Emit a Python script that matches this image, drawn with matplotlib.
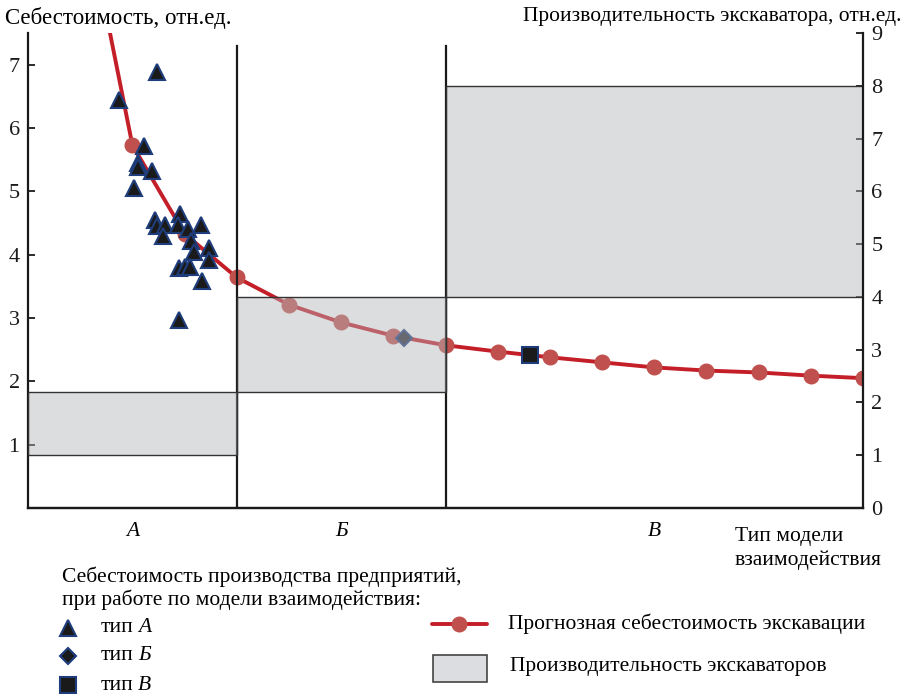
import matplotlib
matplotlib.use('Agg')
import matplotlib.pyplot as plt
from matplotlib.patches import Rectangle
from matplotlib.lines import Line2D

plt.rcParams['font.family'] = ['Liberation Serif', 'DejaVu Serif']

# ---------------- data ----------------
# forecast excavation cost (left axis), points at model positions 0..14
forecast_x = list(range(15))
forecast_cost = [5.73, 4.33, 3.64, 3.21, 2.93, 2.72, 2.57, 2.47, 2.38, 2.30,
                 2.22, 2.17, 2.14, 2.09, 2.05]
# line continues above the plot top
curve_start_x = -0.55
curve_start_cost = 8.0

# enterprises, type A
typeA_x = [0.48, -0.25, 0.23, 0.11, 0.10, 0.38, 0.04, 0.44, 0.48, 0.63, 0.59,
           0.92, 0.88, 1.07, 1.32, 1.13, 1.19, 1.46, 1.46, 0.90, 1.00, 1.11,
           1.34, 0.90]
typeA_cost = [6.89, 6.44, 5.72, 5.45, 5.38, 5.32, 5.05, 4.54, 4.46, 4.47, 4.30,
              4.64, 4.47, 4.40, 4.47, 4.22, 4.05, 4.11, 3.92, 3.79, 3.80, 3.81,
              3.58, 2.97]
# type Б and type В
typeB_x = [5.21]
typeB_cost = [2.69]
typeV_x = [7.62]
typeV_cost = [2.41]

# excavator productivity ranges (right axis)
zone_labels = ['А', 'Б', 'В']
zone_x0 = [-2, 2, 6]
zone_x1 = [2, 6, 14]
prod_low = [1.0, 2.2, 4.0]
prod_high = [2.2, 4.0, 8.0]
zone_label_x = [0, 4, 10]

left_ticks = [1, 2, 3, 4, 5, 6, 7]
right_ticks = [0, 1, 2, 3, 4, 5, 6, 7, 8, 9]

# ---------------- plot ----------------
W, H = 903, 694
FS = 15.5
fig = plt.figure(figsize=(W / 100, H / 100), dpi=100)
ax = fig.add_axes([28 / W, 1 - 508 / H, (863 - 28) / W, (508 - 33) / H])
ax2 = ax.twinx()

RED = '#c41e28'
PT = '#c0504d'
EDGE_BLUE = '#1f3d7a'

ax.set_xlim(-2, 14)
ax.set_ylim(0, 7.5)
ax2.set_ylim(0, 9)

ax.plot([curve_start_x] + forecast_x, [curve_start_cost] + forecast_cost,
        color=RED, lw=2.8, zorder=3, solid_capstyle='round')
ax.plot(forecast_x, forecast_cost, ls='none', marker='o', ms=10.5,
        mfc=PT, mec=PT, zorder=4)

ax.plot(typeA_x, typeA_cost, ls='none', marker='^', ms=11.5, mfc='#1a1a1a',
        mec=EDGE_BLUE, mew=1.5, zorder=5)
ax.plot(typeB_x, typeB_cost, ls='none', marker='D', ms=8, mfc='#2a2a35',
        mec=EDGE_BLUE, mew=1.5, zorder=5)
ax.plot(typeV_x, typeV_cost, ls='none', marker='s', ms=11, mfc='#1a1a1a',
        mec=EDGE_BLUE, mew=1.5, zorder=5)

for x0, x1, lo, hi in zip(zone_x0, zone_x1, prod_low, prod_high):
    ax2.add_patch(Rectangle((x0, lo), x1 - x0, hi - lo,
                            facecolor=(0.70, 0.705, 0.725, 0.45),
                            edgecolor='#333333', lw=1.0, zorder=2))

for xb in zone_x1[:-1]:
    ax.axvline(xb, ymin=0, ymax=0.972, color='#1a1a1a', lw=1.6, zorder=6)

for lab, xl in zip(zone_labels, zone_label_x):
    ax.text(xl, -0.05, lab, transform=ax.get_xaxis_transform(),
            ha='center', va='center', fontsize=FS, style='italic')

ax.set_xticks([])
ax.set_yticks(left_ticks)
ax2.set_yticks(right_ticks)
for a in (ax, ax2):
    a.spines['top'].set_visible(False)
    for s in a.spines.values():
        s.set_linewidth(1.6)
        s.set_color('#1a1a1a')
    a.tick_params(direction='in', length=5, width=1.3, labelsize=16,
                  colors='#1a1a1a', pad=6)
ax2.spines['left'].set_visible(False)
ax.spines['right'].set_visible(False)

fig.text(5 / W, 1 - 18 / H, 'Себестоимость, отн.ед.', fontsize=16.5,
         ha='left', va='center')
fig.text(901 / W, 1 - 16 / H, 'Производительность экскаватора, отн.ед.',
         fontsize=FS, ha='right', va='center')
fig.text(735 / W, 1 - 537 / H, 'Тип модели', fontsize=FS, ha='left', va='center')
fig.text(735 / W, 1 - 560 / H, 'взаимодействия', fontsize=FS, ha='left', va='center')

# ---- legend (left) ----
fig.text(62 / W, 1 - 577 / H, 'Себестоимость производства предприятий,',
         fontsize=FS, ha='left', va='center')
fig.text(62 / W, 1 - 600 / H, 'при работе по модели взаимодействия:',
         fontsize=FS, ha='left', va='center')
leg_items = [('^', 11.5, 628, 'А'), ('D', 8, 656, 'Б'), ('s', 11, 685, 'В')]
for mk, ms, yy, lab in leg_items:
    fig.add_artist(Line2D([68 / W], [1 - yy / H], marker=mk, ms=ms, ls='none',
                          mfc='#1a1a1a', mec=EDGE_BLUE, mew=1.5,
                          transform=fig.transFigure))
    fig.text(101 / W, 1 - yy / H, 'тип', fontsize=FS, ha='left', va='center')
    fig.text(138 / W, 1 - yy / H, lab, fontsize=FS, ha='left', va='center',
             style='italic')

# ---- legend (right) ----
fig.add_artist(Line2D([432 / W, 487 / W], [1 - 624 / H, 1 - 624 / H], color=RED,
                      lw=2.8, transform=fig.transFigure, solid_capstyle='round'))
fig.add_artist(Line2D([459.5 / W], [1 - 624 / H], marker='o', ms=10.5, mfc=PT,
                      mec=PT, ls='none', transform=fig.transFigure))
fig.text(508 / W, 1 - 624 / H, 'Прогнозная себестоимость экскавации',
         fontsize=FS, ha='left', va='center')
fig.add_artist(Rectangle((433 / W, 1 - 682 / H), 54 / W, 27 / H,
                         facecolor='#dcdde0', edgecolor='#444444', lw=1.2,
                         transform=fig.transFigure))
fig.text(510 / W, 1 - 667 / H, 'Производительность экскаваторов',
         fontsize=FS, ha='left', va='center')

fig.savefig('out.png', dpi=100)
